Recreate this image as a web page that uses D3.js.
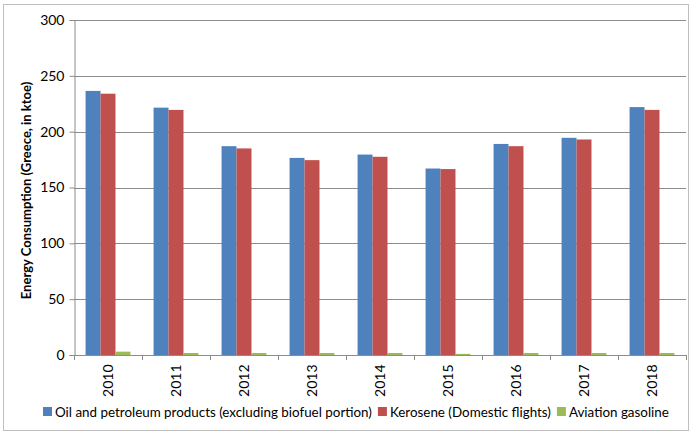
<!DOCTYPE html>
<html>
<head>
<meta charset="utf-8">
<script src="https://cdn.jsdelivr.net/npm/d3@7"></script>
<style>
  body { margin: 0; background: #fff; }
  svg { display: block; font-family: Lato, "Open Sans", sans-serif; }
</style>
</head>
<body>
<svg width="690" height="433"></svg>
<script>
const years = ["2010", "2011", "2012", "2013", "2014", "2015", "2016", "2017", "2018"];
const oilProducts = [236.5, 221.5, 187, 176.5, 179.5, 167, 189, 194.5, 222];
const kerosene = [234, 219.5, 185, 174.5, 177.5, 166.5, 187, 193, 219.5];
const aviationGasoline = [3, 1.8, 1.8, 1.8, 1.8, 1, 1.8, 1.8, 1.8];
const seriesNames = ["Oil and petroleum products (excluding biofuel portion)", "Kerosene (Domestic flights)", "Aviation gasoline"];
const colors = ["#4F81BD", "#C0504D", "#9BBB59"];
const yTicks = [0, 50, 100, 150, 200, 250, 300];

const seriesValues = [oilProducts, kerosene, aviationGasoline];
const margin = { top: 20, right: 4, bottom: 78, left: 74 };
const width = 690;
const height = 433;

const svg = d3.select("svg");

// outer chart frame
svg.append("rect")
  .attr("x", 3.5).attr("y", 4.5)
  .attr("width", 685).attr("height", 426)
  .attr("fill", "none").attr("stroke", "#bfbfbf");

const x = d3.scaleBand()
  .domain(years)
  .range([margin.left, width - margin.right])
  .paddingInner(0.34)
  .paddingOuter(0.17);

const xSub = d3.scaleBand()
  .domain(d3.range(seriesNames.length))
  .range([0, x.bandwidth()]);

const y = d3.scaleLinear()
  .domain([0, 300])
  .range([height - margin.bottom, margin.top]);

// gridlines
svg.append("g")
  .selectAll("line")
  .data(yTicks.slice(1))
  .enter()
  .append("line")
  .attr("x1", margin.left).attr("x2", width - margin.right)
  .attr("y1", d => Math.round(y(d)) + 0.5).attr("y2", d => Math.round(y(d)) + 0.5)
  .attr("stroke", "#8c8c8c");

// bars
years.forEach((yr, i) => {
  svg.append("g")
    .selectAll("rect")
    .data(seriesValues.map((s, k) => ({ k, v: s[i] })))
    .enter()
    .append("rect")
    .attr("x", d => x(yr) + xSub(d.k))
    .attr("y", d => y(d.v))
    .attr("width", xSub.bandwidth())
    .attr("height", d => y(0) - y(d.v))
    .attr("fill", d => colors[d.k]);
});

// y axis
const yAxis = svg.append("g")
  .attr("transform", "translate(" + (margin.left + 0.5) + ",0)")
  .call(d3.axisLeft(y).tickValues(yTicks).tickSize(5).tickPadding(5));
yAxis.selectAll("path, line").attr("stroke", "#8c8c8c");
yAxis.selectAll("text").attr("font-size", 14).attr("fill", "#000").style("font-family", "Lato, sans-serif");

// x axis
const xAxis = svg.append("g")
  .attr("transform", "translate(0," + (y(0) + 0.5) + ")")
  .call(d3.axisBottom(x).tickSize(0).tickPadding(0));
xAxis.select("path").attr("stroke", "#8c8c8c").attr("d", "M" + margin.left + ",0H" + (width - margin.right));
xAxis.selectAll(".tick text")
  .attr("font-size", 14).attr("fill", "#000").style("font-family", "Lato, sans-serif")
  .attr("text-anchor", "end")
  .attr("dy", "0.35em")
  .attr("transform", "translate(0,9) rotate(-90)");

// category boundary ticks
svg.append("g")
  .selectAll("line")
  .data(years.concat(["end"]))
  .enter()
  .append("line")
  .attr("x1", (d, i) => Math.round(margin.left + i * x.step()) + 0.5)
  .attr("x2", (d, i) => Math.round(margin.left + i * x.step()) + 0.5)
  .attr("y1", y(0)).attr("y2", y(0) + 5)
  .attr("stroke", "#8c8c8c");

// y title
svg.append("text")
  .attr("transform", "translate(31," + ((margin.top + y(0)) / 2 + 3) + ") rotate(-90)")
  .attr("text-anchor", "middle")
  .attr("font-size", 13)
  .attr("font-weight", "bold")
  .text("Energy Consumption (Greece, in ktoe)");

// legend
const legend = svg.append("g").attr("transform", "translate(43,412)");
let lx = 0;
seriesNames.forEach((name, k) => {
  const g = legend.append("g").attr("transform", "translate(" + lx + ",0)");
  g.append("rect").attr("x", 0).attr("y", -5).attr("width", 9).attr("height", 9).attr("fill", colors[k]);
  const t = g.append("text").attr("x", 12).attr("y", 0).attr("dy", "0.35em")
    .attr("font-size", 13.4).text(name);
  lx += 12 + t.node().getComputedTextLength() + 6;
});
</script>
</body>
</html>
